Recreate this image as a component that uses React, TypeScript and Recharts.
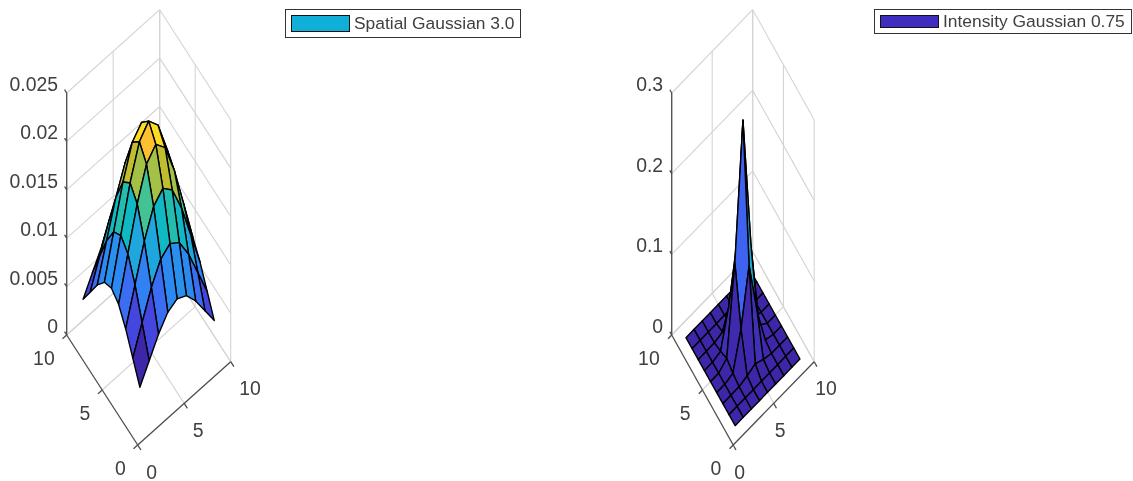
import React from 'react'
import { ScatterChart, Scatter, XAxis, YAxis, Legend } from 'recharts'

// mesh positions along both floor axes
const meshCoords = [1, 2, 3, 4, 5, 6, 7, 8, 9]

const spatialZ = [
  [0.00397, 0.00584, 0.00772, 0.00913, 0.00965, 0.00913, 0.00772, 0.00584, 0.00397],
  [0.00584, 0.00863, 0.01141, 0.01347, 0.01423, 0.01347, 0.01141, 0.00863, 0.00584],
  [0.00772, 0.01141, 0.01504, 0.01777, 0.0188, 0.01777, 0.01504, 0.01141, 0.00772],
  [0.00913, 0.01347, 0.01777, 0.02101, 0.0222, 0.02101, 0.01777, 0.01347, 0.00913],
  [0.00965, 0.01423, 0.0188, 0.0222, 0.02347, 0.0222, 0.0188, 0.01423, 0.00965],
  [0.00913, 0.01347, 0.01777, 0.02101, 0.0222, 0.02101, 0.01777, 0.01347, 0.00913],
  [0.00772, 0.01141, 0.01504, 0.01777, 0.0188, 0.01777, 0.01504, 0.01141, 0.00772],
  [0.00584, 0.00863, 0.01141, 0.01347, 0.01423, 0.01347, 0.01141, 0.00863, 0.00584],
  [0.00397, 0.00584, 0.00772, 0.00913, 0.00965, 0.00913, 0.00772, 0.00584, 0.00397],
]

const intensityZ = [
  [0, 0, 0, 0, 0, 0, 0, 0, 0],
  [0, 0, 0, 0.00004, 0.00009, 0.00004, 0, 0, 0],
  [0, 0, 0.00023, 0.00332, 0.00808, 0.00332, 0.00023, 0, 0],
  [0, 0.00004, 0.00332, 0.0478, 0.1163, 0.0478, 0.00332, 0.00004, 0],
  [0, 0.00009, 0.00808, 0.1163, 0.2829, 0.1163, 0.00808, 0.00009, 0],
  [0, 0.00004, 0.00332, 0.0478, 0.1163, 0.0478, 0.00332, 0.00004, 0],
  [0, 0, 0.00023, 0.00332, 0.00808, 0.00332, 0.00023, 0, 0],
  [0, 0, 0, 0.00004, 0.00009, 0.00004, 0, 0, 0],
  [0, 0, 0, 0, 0, 0, 0, 0, 0],
]

const floorTicks = [0, 5, 10]
const spatialZTicks = [0, 0.005, 0.01, 0.015, 0.02, 0.025]
const spatialZLabels = ['0', '0.005', '0.01', '0.015', '0.02', '0.025']
const intensityZTicks = [0, 0.1, 0.2, 0.3]
const intensityZLabels = ['0', '0.1', '0.2', '0.3']

const parula = ['#3e26a8', '#4650ee', '#2f85f5', '#1fa5df', '#0dbabf', '#70c870', '#bbbd30', '#fdc030', '#f9fb15']

const FONT = '"Liberation Sans", Arial, sans-serif'
const GRID = '#d4d4d4'
const AXIS = '#4d4d4d'
const HEIGHT = 481

const colorAt = (t: number) => {
  const p = Math.min(Math.max(t, 0), 1) * (parula.length - 1)
  const i = Math.min(Math.floor(p), parula.length - 2)
  const f = p - i
  const a = parseInt(parula[i].slice(1), 16)
  const b = parseInt(parula[i + 1].slice(1), 16)
  const mix = (shift: number) =>
    Math.round(((a >> shift) & 255) * (1 - f) + ((b >> shift) & 255) * f)
  return `rgb(${mix(16)},${mix(8)},${mix(0)})`
}

const noDot = () => null

const Panel = ({ left, width, view, z, zTicks, zLabels, legend }: any) => {
  const zMax = zTicks[zTicks.length - 1]
  const project = (u: number, v: number, h: number) => ({
    x: view.x0 + view.ux * u + view.vx * v,
    y: view.y0 - view.uy * u - view.vy * v - (h / zMax) * view.zHeight,
  })
  const seg = (a: number[], b: number[]) => [project(a[0], a[1], a[2]), project(b[0], b[1], b[2])]

  const gridLines: any[] = []
  zTicks.forEach((h: number) => {
    gridLines.push(seg([0, 10, h], [10, 10, h]), seg([10, 0, h], [10, 10, h]))
  })
  floorTicks.forEach((t) => {
    gridLines.push(seg([t, 10, 0], [t, 10, zMax]), seg([10, t, 0], [10, t, zMax]))
    if (t > 0) gridLines.push(seg([t, 0, 0], [t, 10, 0]), seg([0, t, 0], [10, t, 0]))
  })

  const axisLines: any[] = [
    seg([0, 10, 0], [0, 10, zMax]),
    seg([0, 0, 0], [10, 0, 0]),
    seg([0, 0, 0], [0, 10, 0]),
  ]
  zTicks.forEach((h: number) => axisLines.push(seg([0, 10, h], [0, 10.3, h])))
  floorTicks.forEach((t) => {
    axisLines.push(seg([t, 0, 0], [t, -0.45, 0]), seg([-0.45, t, 0], [0, t, 0]))
  })

  // facets far to near, each takes the colour of its lowest corner
  const zAll = z.flat()
  const zMin = Math.min(...zAll)
  const zTop = Math.max(...zAll)
  const faces: any[] = []
  for (let j = 0; j < meshCoords.length - 1; j++) {
    for (let i = 0; i < meshCoords.length - 1; i++) {
      const u0 = meshCoords[i]
      const u1 = meshCoords[i + 1]
      const v0 = meshCoords[j]
      const v1 = meshCoords[j + 1]
      faces.push({
        depth: -view.vx * (u0 + u1) + view.ux * (v0 + v1),
        color: colorAt((z[j][i] - zMin) / (zTop - zMin)),
        points: [
          project(u0, v0, z[j][i]),
          project(u1, v0, z[j][i + 1]),
          project(u1, v1, z[j + 1][i + 1]),
          project(u0, v1, z[j + 1][i]),
        ],
      })
    }
  }
  faces.sort((a, b) => b.depth - a.depth)

  const labels: any[] = []
  zTicks.forEach((h: number, k: number) => {
    const p = project(0, 10, h)
    labels.push({ x: p.x - 8.6, y: p.y - 9, text: zLabels[k], anchor: 'end' })
  })
  floorTicks.forEach((t) => {
    const a = project(0, t, 0)
    labels.push({ x: a.x - 12, y: a.y + 23, text: String(t), anchor: 'end' })
    const b = project(t, 0, 0)
    labels.push({ x: b.x + view.uLabelDx, y: b.y + 26.5, text: String(t), anchor: 'start' })
  })

  const renderFace = (color: string) => (props: any) => (
    <polygon
      points={props.points.map((p: any) => `${p.x},${p.y}`).join(' ')}
      fill={color}
      stroke="#000"
      strokeWidth={1.4}
      strokeLinejoin="round"
    />
  )

  const renderLabel = (props: any) => (
    <text
      x={props.cx}
      y={props.cy}
      textAnchor={props.payload.anchor}
      dominantBaseline="central"
      fontFamily={FONT}
      fontSize={19.4}
      fill="#404040"
    >
      {props.payload.text}
    </text>
  )

  return (
    <div style={{ position: 'absolute', left, top: 0, width, height: HEIGHT }}>
      <ScatterChart width={width} height={HEIGHT} margin={{ top: 0, right: 0, bottom: 0, left: 0 }}>
        <XAxis dataKey="x" type="number" domain={[0, width]} hide allowDataOverflow />
        <YAxis dataKey="y" type="number" domain={[0, HEIGHT]} reversed hide allowDataOverflow />
        <Legend
          wrapperStyle={{ left: 0, top: 0, width: 0, height: 0 }}
          content={() => (
            <div
              style={{
                position: 'absolute',
                left: legend.left,
                top: legend.top,
                width: legend.width,
                height: legend.height,
                boxSizing: 'border-box',
                border: '1px solid #333',
                background: '#fff',
              }}
            >
              <div
                style={{
                  position: 'absolute',
                  left: 5,
                  top: 5,
                  width: 59,
                  height: legend.height - 12,
                  boxSizing: 'border-box',
                  border: '1px solid #111',
                  background: legend.color,
                }}
              />
              <div
                style={{
                  position: 'absolute',
                  left: 68,
                  top: 0,
                  lineHeight: `${legend.height - 2}px`,
                  whiteSpace: 'nowrap',
                  fontFamily: FONT,
                  fontSize: 17.4,
                  color: '#404040',
                }}
              >
                {legend.text}
              </div>
            </div>
          )}
        />
        {gridLines.map((d, i) => (
          <Scatter key={`g${i}`} data={d} shape={noDot} line={{ stroke: GRID, strokeWidth: 1.1 }} legendType="none" isAnimationActive={false} />
        ))}
        {axisLines.map((d, i) => (
          <Scatter key={`a${i}`} data={d} shape={noDot} line={{ stroke: AXIS, strokeWidth: 1.3 }} legendType="none" isAnimationActive={false} />
        ))}
        {faces.map((f, i) => (
          <Scatter key={`f${i}`} data={f.points} shape={noDot} line={renderFace(f.color)} legendType="none" isAnimationActive={false} />
        ))}
        <Scatter data={labels} shape={renderLabel} legendType="none" isAnimationActive={false} />
      </ScatterChart>
    </div>
  )
}

export default function App() {
  return (
    <div style={{ position: 'absolute', left: 0, top: 0, width: 1133, height: HEIGHT, background: '#fff', overflow: 'hidden', filter: 'blur(0.4px)' }}>
      <Panel
        left={0}
        width={566}
        view={{ x0: 137.7, y0: 445, ux: 9.3, vx: -7.1, uy: 8.33, vy: 11, zHeight: 242, uLabelDx: 8.5 }}
        z={spatialZ}
        zTicks={spatialZTicks}
        zLabels={spatialZLabels}
        legend={{ left: 285, top: 9, width: 236, height: 29, color: '#0fafd8', text: 'Spatial Gaussian 3.0' }}
      />
      <Panel
        left={566}
        width={567}
        view={{ x0: 167.2, y0: 445, ux: 8.1, vx: -6.15, uy: 8.33, vy: 11, zHeight: 242, uLabelDx: 1 }}
        z={intensityZ}
        zTicks={intensityZTicks}
        zLabels={intensityZLabels}
        legend={{ left: 308, top: 9, width: 258, height: 25, color: '#3f2dc0', text: 'Intensity Gaussian 0.75' }}
      />
    </div>
  )
}
